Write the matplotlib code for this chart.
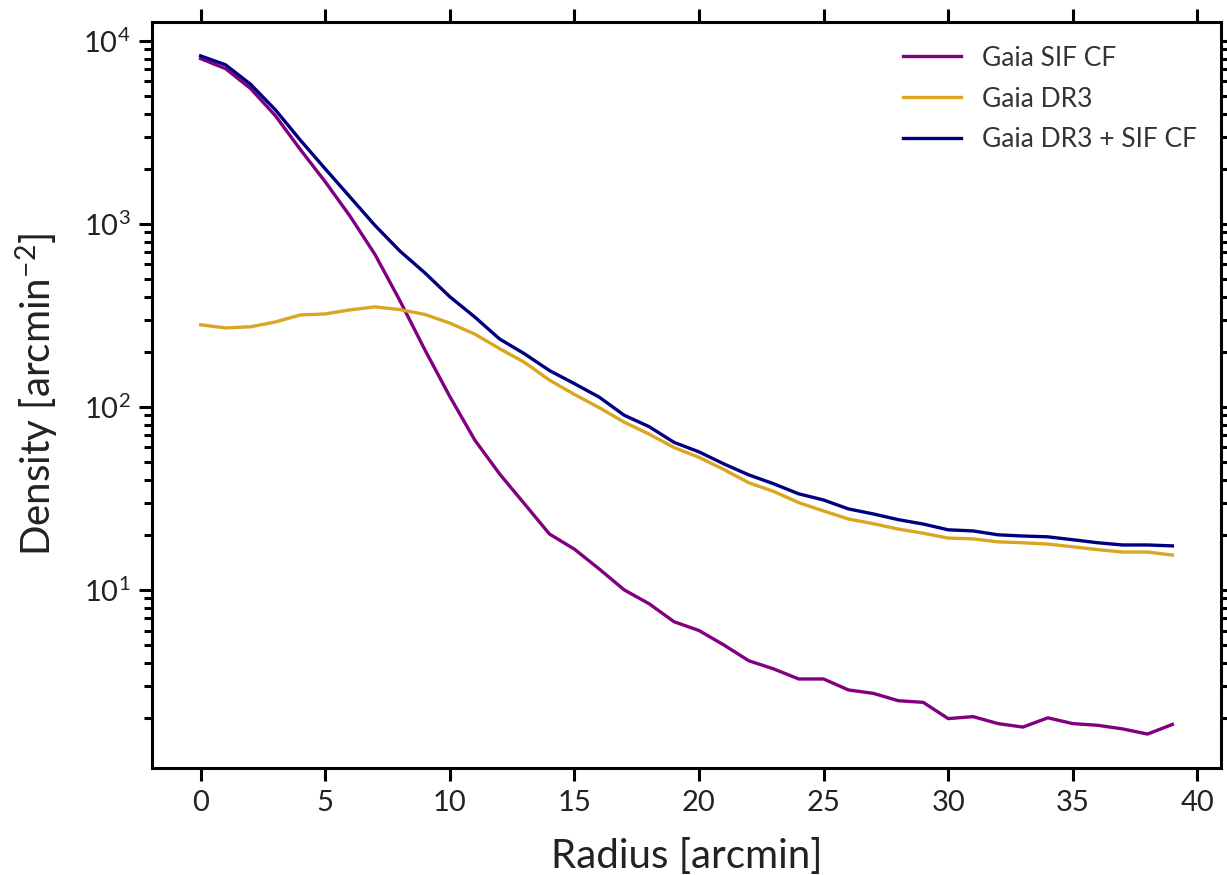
import numpy as np
import matplotlib
matplotlib.use("Agg")
import matplotlib.pyplot as plt

# radial density profiles (stars per arcmin^2) in 1 arcmin bins
radius = np.arange(40)

sif_cf = [8000, 7050, 5500, 3900, 2550, 1700, 1100, 680, 380, 205,
          114, 66, 43, 29.5, 20.2, 16.7, 13.0, 10.0, 8.4, 6.7,
          6.0, 5.0, 4.1, 3.7, 3.26, 3.26, 2.84, 2.72, 2.48, 2.43,
          1.98, 2.03, 1.86, 1.78, 2.0, 1.86, 1.82, 1.74, 1.63, 1.84]

dr3 = [281, 270, 274, 291, 318, 322, 339, 352, 340, 320,
       287, 250, 208, 175, 140, 117, 99, 82.5, 71, 60,
       53, 45.5, 38.5, 34.5, 30, 27, 24.4, 23, 21.5, 20.4,
       19.2, 19.0, 18.3, 18.1, 17.8, 17.2, 16.6, 16.1, 16.1, 15.5]

dr3_sif = [8280, 7400, 5800, 4200, 2870, 2000, 1400, 980, 710, 540,
           400, 310, 235, 195, 158, 134, 113, 90, 78, 64,
           56.8, 48.8, 42.5, 38, 33.5, 31, 27.7, 26, 24.2, 22.9,
           21.3, 21.0, 20.0, 19.7, 19.5, 18.8, 18.1, 17.6, 17.6, 17.4]

plt.rcParams['font.family'] = ['Lato', 'DejaVu Sans']
plt.rcParams['mathtext.fontset'] = 'custom'
plt.rcParams['mathtext.rm'] = 'Lato'
plt.rcParams['mathtext.it'] = 'Lato:italic'
plt.rcParams['mathtext.bf'] = 'Lato:bold'

fig = plt.figure(figsize=(12.27, 8.75), dpi=100)
ax = fig.add_axes([0.1239, 0.1223, 0.9951 - 0.1239, 0.9749 - 0.1223])

ax.plot(radius, sif_cf, color='#800080', lw=2.4, label='Gaia SIF CF')
ax.plot(radius, dr3, color='#DAA520', lw=2.4, label='Gaia DR3')
ax.plot(radius, dr3_sif, color='#000080', lw=2.4, label='Gaia DR3 + SIF CF')

ax.set_yscale('log')
ax.set_xlabel('Radius [arcmin]', fontsize=29, color='#222222', labelpad=16)
ax.set_ylabel('Density [arcmin$^{-2}$]', fontsize=29, color='#222222', labelpad=16)

for side in ax.spines.values():
    side.set_linewidth(2.2)

ax.tick_params(which='both', direction='out', top=True, right=True,
               labelsize=21, labelcolor='#222222', width=2.2)
ax.tick_params(which='major', length=9.5, pad=6)
ax.tick_params(which='minor', length=5.5)

ax.legend(loc='upper right', frameon=False, fontsize=19, handlelength=2.2,
          handletextpad=0.8, labelspacing=0.6, labelcolor='#333333',
          borderaxespad=0.5)

fig.savefig('out.png', dpi=100)
